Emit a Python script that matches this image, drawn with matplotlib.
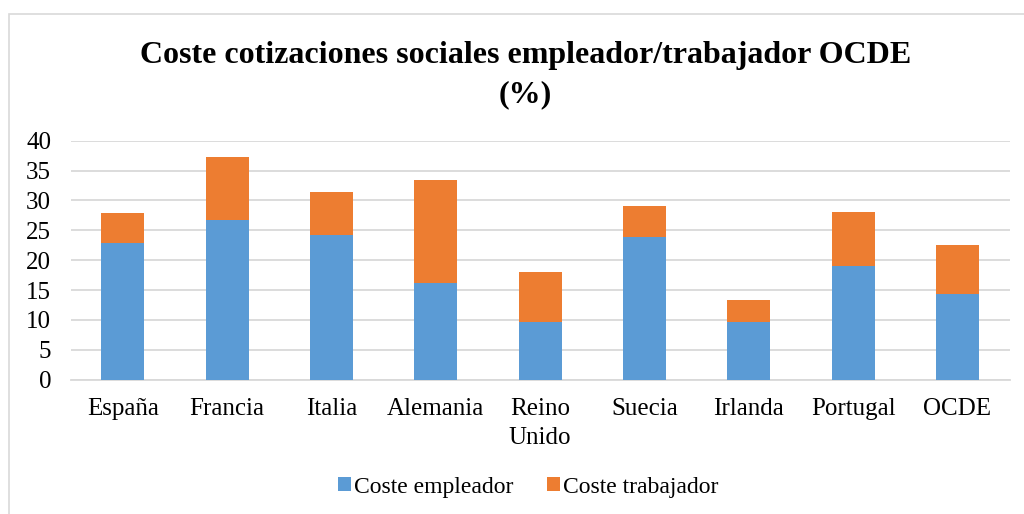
import matplotlib.pyplot as plt
from matplotlib.patches import Rectangle
import numpy as np

# data
paises = ["España", "Francia", "Italia", "Alemania", "Reino\nUnido",
          "Suecia", "Irlanda", "Portugal", "OCDE"]
coste_empleador = [22.9, 26.8, 24.2, 16.1, 9.6, 23.9, 9.6, 19.1, 14.4]
coste_trabajador = [4.95, 10.45, 7.2, 17.3, 8.5, 5.2, 3.7, 8.95, 8.2]
yticks = [0, 5, 10, 15, 20, 25, 30, 35, 40]

azul = "#5B9BD5"
naranja = "#ED7D31"
gris = "#D9D9D9"

plt.rcParams['font.family'] = ['Liberation Serif', 'DejaVu Serif']

fig = plt.figure(figsize=(10.24, 5.14), dpi=100)
ax = fig.add_axes([0.069, 0.2613, 0.917, 0.465])

x = np.arange(len(paises))
ax.bar(x, coste_empleador, width=0.41, color=azul, label="Coste empleador",
       zorder=3)
ax.bar(x, coste_trabajador, width=0.41, bottom=coste_empleador, color=naranja,
       label="Coste trabajador", zorder=3)

ax.set_xlim(-0.5, len(paises) - 0.5)
ax.set_ylim(0, 40)
ax.set_yticks(yticks)
ax.set_xticks(x)
ax.set_xticklabels(paises, fontsize=18, linespacing=1.42)
ax.tick_params(axis='y', length=0, pad=14, labelsize=18)
ax.tick_params(axis='x', length=0, pad=13)
ax.grid(axis='y', color=gris, linewidth=1.3, zorder=0)
for s in ['top', 'right', 'left']:
    ax.spines[s].set_visible(False)
ax.spines['bottom'].set_color(gris)
ax.spines['bottom'].set_linewidth(1.3)

fig.text(0.513, 1 - 55 / 514, "Coste cotizaciones sociales empleador/trabajador OCDE",
         ha='center', va='center', fontsize=23, fontweight='bold')
fig.text(0.513, 1 - 95 / 514, "(%)", ha='center', va='center',
         fontsize=23, fontweight='bold')

fig.legend(loc='center', bbox_to_anchor=(0.516, 1 - 487 / 514), ncol=2,
           frameon=False, fontsize=17, handlelength=0.55, handleheight=0.55,
           handletextpad=0.15, columnspacing=1.4)

# light frame of the chart area
fig.patches.append(Rectangle((9 / 1024, -0.5), 1.2, 0.5 + 1 - 14 / 514,
                             transform=fig.transFigure, fill=False,
                             edgecolor=gris, linewidth=1.2))

fig.savefig("out.png", dpi=100)
